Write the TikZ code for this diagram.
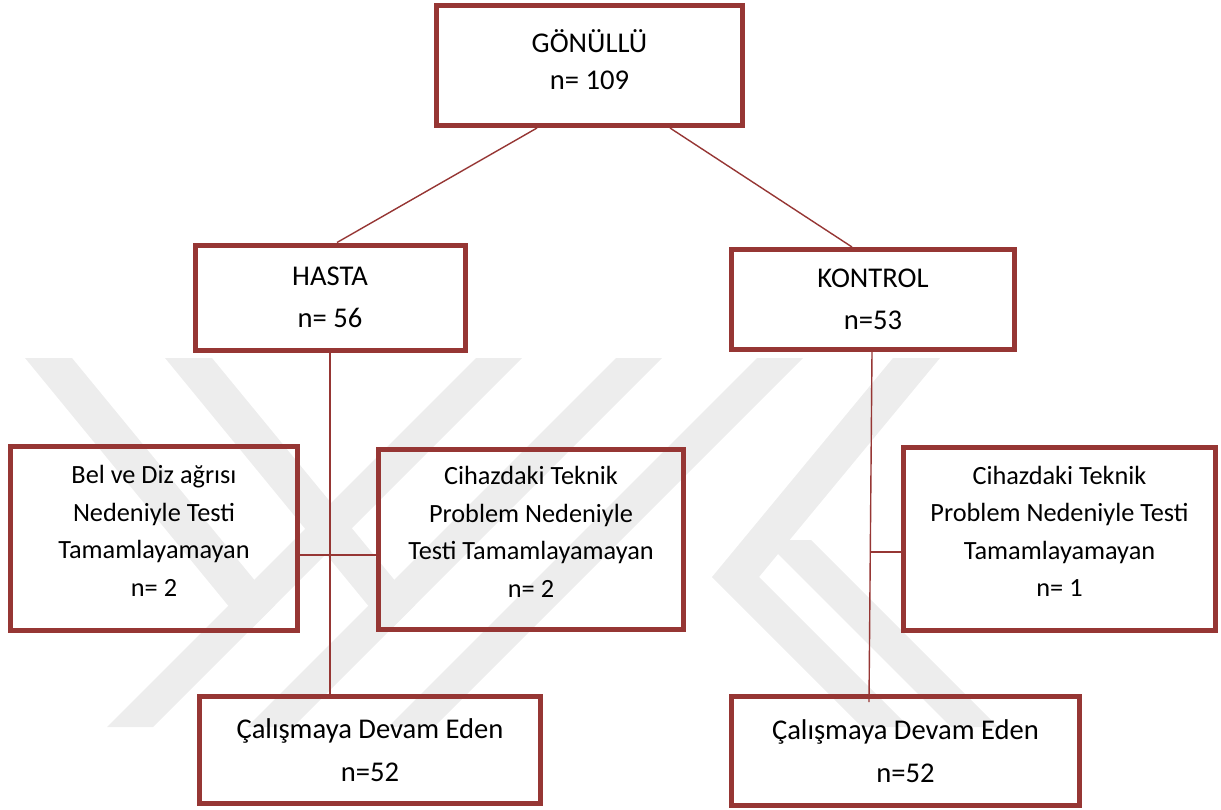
\documentclass[tikz,border=0pt]{standalone}
\usepackage{fontspec}
\setmainfont{Carlito}
\usepackage{tikz}
\usetikzlibrary{positioning}
\definecolor{boxred}{RGB}{150,54,52}
\definecolor{wmgray}{RGB}{237,237,237}

\begin{document}
\begin{tikzpicture}[
  x=1pt, y=-1pt,
  box/.style={draw=boxred, line width=5pt, align=center, inner sep=0pt},
  bigtext/.style={font=\fontsize{28.6}{42}\selectfont},
  smalltext/.style={font=\fontsize{26.3}{37.5}\selectfont, text depth=15pt},
  link/.style={draw=boxred, line width=1.4pt},
  wmark/.style={fill=wmgray}
]
  \useasboundingbox (0,0) rectangle (1221,809);

  %% Watermark
  \fill[wmark] (25,358) -- (72,358) -- (275,605) -- (249,631) -- cycle;
  \fill[wmark] (107,727) -- (153,727) -- (522,358) -- (476,358) -- cycle;
  \fill[wmark] (165,358) -- (212,358) -- (415,605) -- (389,631) -- cycle;
  \fill[wmark] (247,727) -- (293,727) -- (662,358) -- (616,358) -- cycle;
  \fill[wmark] (388,727) -- (434,727) -- (803,358) -- (757,358) -- cycle;
  \fill[wmark] (893,358) -- (940,358) -- (759,577) -- (712,577) -- cycle;
  \fill[wmark] (712,577) -- (759,577) -- (909,727) -- (862,727) -- cycle;
  \fill[wmark] (764,540) -- (811,540) -- (998,727) -- (951,727) -- cycle;

  %% Boxes
  \node[box, bigtext, font=\fontsize{28.6}{37}\selectfont, text depth=11pt,
        minimum width=306, minimum height=120] (gonullu) at (589.5,65.5)
        {GÖNÜLLÜ\\n= 109};
  \node[box, bigtext, minimum width=270, minimum height=105] (hasta) at (330,297.5)
        {HASTA\\n= 56};
  \node[box, bigtext, minimum width=283, minimum height=100] (kontrol) at (873,299.5)
        {KONTROL\\n=53};
  \node[box, smalltext, minimum width=287, minimum height=184] (bel) at (154,538.5)
        {Bel ve Diz ağrısı\\Nedeniyle Testi\\Tamamlayamayan\\n= 2};
  \node[box, smalltext, minimum width=305, minimum height=180] (cihazA) at (531,539.5)
        {Cihazdaki Teknik\\Problem Nedeniyle\\Testi Tamamlayamayan\\n= 2};
  \node[box, smalltext, minimum width=312, minimum height=183] (cihazB) at (1059.5,539)
        {Cihazdaki Teknik\\Problem Nedeniyle Testi\\Tamamlayamayan\\n= 1};
  \node[box, bigtext, font=\fontsize{28.6}{43}\selectfont,
        minimum width=341, minimum height=107] (devamA) at (370,750)
        {Çalışmaya Devam Eden\\n=52};
  \node[box, bigtext, font=\fontsize{28.6}{43}\selectfont,
        minimum width=348, minimum height=109] (devamB) at (905.5,751)
        {Çalışmaya Devam Eden\\n=52};

  %% Links
  \draw[link] ([xshift=-52.5pt]gonullu.south) -- ([xshift=7pt]hasta.north);
  \draw[link] ([xshift=80.5pt]gonullu.south) -- ([xshift=-21pt]kontrol.north);
  \draw[link] (hasta.south) -- (hasta.south |- devamA.north);
  \draw[link] ([yshift=-16.5pt]bel.east) -- ([yshift=-16.5pt]bel.east -| cihazA.west);
  \draw[link] ([xshift=-1pt]kontrol.south) -- ([xshift=-36.5pt,yshift=-8pt]devamB.north);
  \coordinate (kjoin) at (871,552);
  \draw[link] (kjoin) -- (kjoin -| cihazB.west);
\end{tikzpicture}
\end{document}
